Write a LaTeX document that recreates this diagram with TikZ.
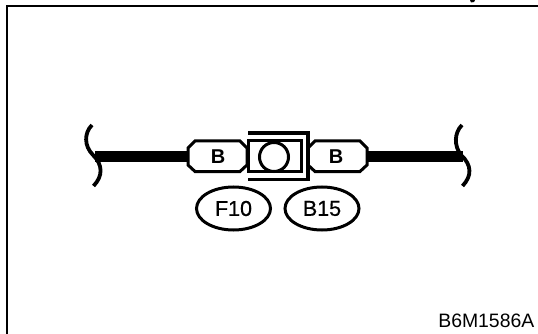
\documentclass[tikz,border=0pt]{standalone}
\usepackage{fontspec}
\setmainfont{Liberation Sans}
\newfontfamily\heavyface[FakeBold=0.6]{Liberation Sans}
\usetikzlibrary{shapes.geometric}
\tikzset{
 wire/.style={line width=11pt},
 squiggle/.style={line width=3.8pt},
 frameline/.style={line width=2.4pt},
 shell/.style={line width=3pt,line join=miter},
 bracket/.style={line width=3.6pt,line join=miter},
 bubble/.style={ellipse,draw,line width=3pt,minimum width=74pt,minimum height=43pt,inner sep=0pt,font=\heavyface\fontsize{21.5}{21.5}\selectfont},
 pinlabel/.style={inner sep=0pt,font=\fontsize{20}{20}\selectfont\bfseries},
}
\begin{document}
\begin{tikzpicture}[x=1pt,y=-1pt]
\useasboundingbox (0,0) rectangle (538,334);
\fill[white] (0,0) rectangle (538,334);
% frame
\draw[frameline] (7,334) -- (7,6) -- (538,6);
\fill (470,0) -- (475,0) -- (474,2) -- (471,2.5) -- cycle;
% connector shells
\draw[shell] (195,141) -- (240,141) -- (247,148) -- (247,165) -- (240,171.5) -- (195,171.5) -- (188,165) -- (188,148) -- cycle;
\draw[shell] (315,141) -- (360,141) -- (367,148) -- (367,165) -- (360,171.5) -- (315,171.5) -- (308,165) -- (308,148) -- cycle;
\node[pinlabel] (bl) at (218,157) {B};
\node[pinlabel] (br) at (336,157) {B};
\coordinate (lw) at (187,156.5);
\coordinate (rw) at (367,156.5);
\coordinate (le) at (95,156.5);
\coordinate (re) at (463,156.5);
\draw[wire] (le) -- (lw);
\draw[wire] (rw) -- (re);
% squiggles
\draw[squiggle] (92,125) .. controls (84,133) and (84,146) .. (93,155) .. controls (103,165) and (103,176) .. (93.5,186);
\draw[squiggle] (462,125) .. controls (454,133) and (454,146) .. (461,155) .. controls (472,165) and (472,176) .. (462.5,186);
% center
\draw[shell] (248,141) rectangle (301,171.5);
\draw[bracket] (248,133) -- (308,133) -- (308,179.5) -- (248,179.5);
\node[circle,draw,line width=3pt,minimum size=29pt,inner sep=0pt] (c) at (274,157) {};
\node[bubble] (f) at (233.5,208.5) {F10};
\node[bubble] (b) at (322,208.5) {B15};
\node[inner sep=0pt,anchor=base east,font=\fontsize{19.4}{19.4}\selectfont] (id) at (534.5,327) {B6M1586A};
\end{tikzpicture}
\end{document}
